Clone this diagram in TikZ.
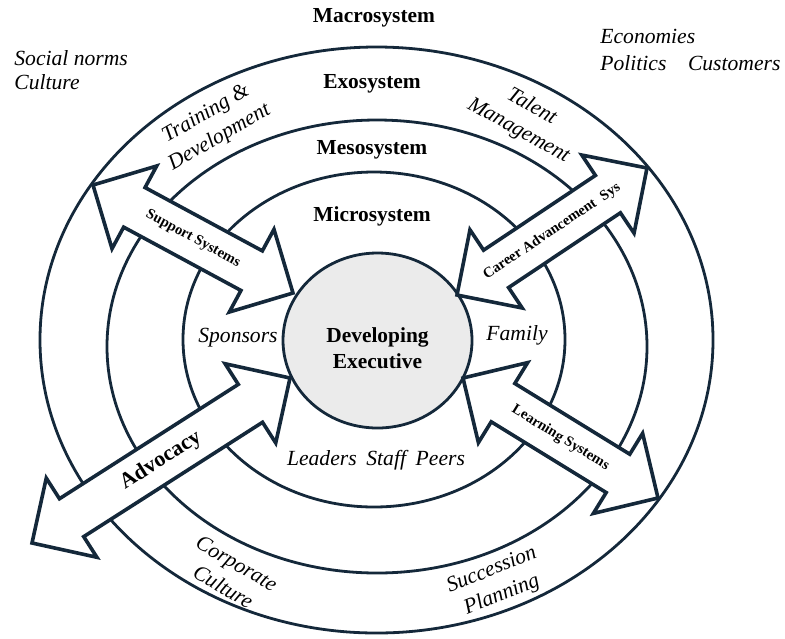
\documentclass[tikz,border=0pt]{standalone}
\usepackage{fontspec}
\setmainfont{Liberation Serif}
\usepackage{tikz}
\usetikzlibrary{calc,shapes.geometric}
\usetikzlibrary{positioning}

\definecolor{ink}{HTML}{14283A}
\definecolor{corefill}{HTML}{EBEBEB}

\tikzset{
    ring/.style={
           ellipse,
           draw=ink,
           line width=1.4pt,
           inner sep=0,
           },
    blockarr/.style={
           draw=ink,
           fill=white,
           line width=1.8pt,
           line join=miter,
           },
    sysname/.style={
           font=\fontsize{10.7}{13}\selectfont\bfseries,
           align=center,
           inner sep=0,
           },
    tag/.style={
           font=\fontsize{10.8}{13.5}\selectfont\itshape,
           align=center,
           inner sep=0,
           },
    arrlabel/.style={
           font=\fontsize{7.3}{9}\selectfont\bfseries,
           inner sep=0,
           }
}

\newcommand{\dblarrow}[2]{%
  \draw[blockarr] (#1)
    -- ($(#1)!23.5pt!(#2)!23.5pt!90:(#2)$)
    -- ($(#1)!23.5pt!(#2)!11.25pt!90:(#2)$)
    -- ($(#2)!23.5pt!(#1)!11.25pt!-90:(#1)$)
    -- ($(#2)!23.5pt!(#1)!23.5pt!-90:(#1)$)
    -- (#2)
    -- ($(#2)!23.5pt!(#1)!23.5pt!90:(#1)$)
    -- ($(#2)!23.5pt!(#1)!11.25pt!90:(#1)$)
    -- ($(#1)!23.5pt!(#2)!11.25pt!-90:(#2)$)
    -- ($(#1)!23.5pt!(#2)!23.5pt!-90:(#2)$)
    -- cycle;}

\begin{document}
\begin{tikzpicture}[x=0.5pt,y=-0.5pt]
\useasboundingbox (0,0) rectangle (785,638);
\node (macroring) at (376.5,340) [ring, minimum width=336.5pt, minimum height=293pt] {};
\node (exoring) at (377,346.5) [ring, minimum width=270pt, minimum height=226.5pt] {};
\node (mesoring) at (374,339.5) [ring, minimum width=191pt, minimum height=167.5pt] {};
\node (core) at (377.5,340.5) [ring, fill=corefill, minimum width=94.5pt, minimum height=87.5pt] {};
\node (exec) at (377.5,348) [sysname] {Developing\\Executive};
\node (macro) at (374,18) [sysname] {Macrosystem};
\node (exo) at (372,84) [sysname] {Exosystem};
\node (meso) at (372,150) [sysname] {Mesosystem};
\node (micro) at (372,216) [sysname] {Microsystem};
\node (social) at (14,70) [tag, anchor=west, align=left, font=\fontsize{10.8}{12}\selectfont\itshape] {Social norms\\Culture};
\node (econ) at (600,49.5) [tag, anchor=west, align=left] {Economies\\Politics\hspace{1em}Customers};
\node (spons) at (238,338) [tag] {Sponsors};
\node (family) at (517,335) [tag] {Family};
\node (peers) at (376,460) [tag] {Leaders\hspace{0.45em}Staff\hspace{0.45em}Peers};
\node (train) at (213,126) [tag, rotate=30] {Training \&\\Development};
\node (talent) at (525,119) [tag, rotate=-29] {Talent\\Management};
\node (corp) at (230,575) [tag, rotate=-30] {Corporate\\Culture};
\node (succ) at (497,583) [tag, rotate=22] {Succession\\Planning};
\coordinate (s1) at (93,185);
\coordinate (s2) at (293,293);
\coordinate (c1) at (457,295);
\coordinate (c2) at (647,168);
\coordinate (v1) at (32,543);
\coordinate (v2) at (290,378);
\coordinate (l1) at (463,378);
\coordinate (l2) at (658,498);
\dblarrow{s1}{s2}
\dblarrow{c1}{c2}
\dblarrow{v1}{v2}
\dblarrow{l1}{l2}
\path (s1) -- (s2) node[midway, sloped, arrlabel] {Support Systems};
\path (c1) -- (c2) node[midway, sloped, arrlabel] {Career Advancement\hspace{0.5em}Sys};
\path (v1) -- (v2) node[midway, sloped, arrlabel, font=\fontsize{11}{13}\selectfont\bfseries] {Advocacy};
\path (l1) -- (l2) node[midway, sloped, arrlabel] {Learning Systems};
\end{tikzpicture}
\end{document}
